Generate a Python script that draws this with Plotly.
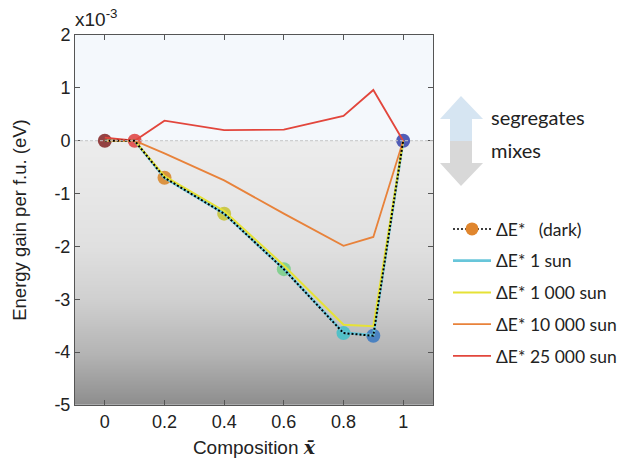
import numpy as np
import plotly.graph_objects as go

# Composition values and energy gains (units of 1e-3 eV per formula unit)
composition = [0.0, 0.1, 0.2, 0.4, 0.6, 0.8, 0.9, 1.0]
dE_dark = [0.0, 0.0, -0.70, -1.38, -2.43, -3.64, -3.69, 0.0]
dE_1sun = [0.0, 0.0, -0.70, -1.38, -2.43, -3.63, -3.68, 0.0]
dE_1000sun = [0.0, 0.0, -0.67, -1.33, -2.36, -3.48, -3.51, 0.0]
dE_10000sun = [0.0, 0.0, -0.24, -0.75, -1.38, -1.99, -1.82, 0.0]
dE_25000sun = [0.06, 0.0, 0.38, 0.20, 0.21, 0.47, 0.96, 0.0]

point_colors = ["#8a2f2f", "#e04848", "#d98a30", "#c8c43c",
                "#7bcf8a", "#46c0c8", "#3f7cc2", "#3f4db0"]

x_ticks = [0, 0.2, 0.4, 0.6, 0.8, 1]
x_ticklabels = ["0", "0.2", "0.4", "0.6", "0.8", "1"]
y_ticks = [-5, -4, -3, -2, -1, 0, 1, 2]
y_ticklabels = ["-5", "-4", "-3", "-2", "-1", "0", "1", "2"]

W, H = 622, 461
L, R, T, B = 75, 189, 35, 56
FONT_AX = "Liberation Sans, Arial, sans-serif"
FONT_TXT = "Lato, Open Sans, sans-serif"


def px(x):
    return (x - L) / (W - L - R)


def py(y):
    return (H - B - y) / (H - T - B)


fig = go.Figure()

# grey gradient below zero, as a single-column heatmap with explicit bin edges
stops_y = [0, -1, -2, -3, -4, -5]
stops_v = [236, 231, 224, 208, 181, 142]
n = 200
y_edges = np.linspace(-5, 0, n + 1)
y_mid = 0.5 * (y_edges[:-1] + y_edges[1:])
shade = np.interp(y_mid, stops_y[::-1], stops_v[::-1])
fig.add_trace(go.Heatmap(
    x=[-0.1, 1.1], y=y_edges, z=shade.reshape(-1, 1),
    zmin=0, zmax=255, colorscale=[[0, "rgb(0,0,0)"], [1, "rgb(255,255,255)"]],
    showscale=False, hoverinfo="skip", showlegend=False))

# dark-state points (drawn beneath the lines)
fig.add_trace(go.Scatter(
    x=composition, y=dE_dark, mode="markers",
    marker=dict(size=14, color=point_colors, opacity=0.9),
    showlegend=False, hoverinfo="skip"))

series = [
    ("ΔE* 1 sun", dE_1sun, "#68c6da", 2.6),
    ("ΔE* 1 000 sun", dE_1000sun, "#e6e236", 2),
    ("ΔE* 10 000 sun", dE_10000sun, "#e8823a", 1.8),
    ("ΔE* 25 000 sun", dE_25000sun, "#e2463c", 1.8),
]
for i, (name, vals, col, w) in enumerate(series):
    fig.add_trace(go.Scatter(
        x=composition, y=vals, mode="lines", name=name,
        line=dict(color=col, width=w), legendgroup=name,
        legendrank=i + 2))

# dotted dark-state curve on top
fig.add_trace(go.Scatter(
    x=composition, y=dE_dark, mode="lines",
    line=dict(color="black", width=2, dash="2px,2px"),
    showlegend=False, hoverinfo="skip"))

# legend entry for the dark-state curve
fig.add_trace(go.Scatter(
    x=[None], y=[None], mode="lines+markers", name="ΔE*   (dark)",
    line=dict(color="black", width=1.5, dash="2px,2px"),
    marker=dict(size=13, color="#e0862e"), legendgroup="dark", legendrank=1))

shapes = [dict(type="line", xref="paper", yref="y",
               x0=0, x1=1, y0=0, y1=0,
               line=dict(color="#c6c6c6", width=1, dash="3px,2px"))]

# segregates / mixes double arrow
up = [(461, 96), (483, 119), (472, 119), (472, 141), (450, 141), (450, 119), (440, 119)]
down = [(450, 141), (472, 141), (472, 163), (483, 163), (461, 186), (440, 163), (450, 163)]
for pts, col in ((up, "#d6e5f2"), (down, "#d8d8d8")):
    path = "M " + " L ".join(f"{px(a):.4f},{py(b):.4f}" for a, b in pts) + " Z"
    shapes.append(dict(type="path", xref="paper", yref="paper", path=path,
                       fillcolor=col, line=dict(width=0)))

annotations = [
    dict(text="x10<sup>-3</sup>", xref="paper", yref="paper", x=px(73), y=py(18),
         xanchor="left", yanchor="middle", showarrow=False,
         font=dict(family=FONT_AX, size=19, color="#222")),
    dict(text="segregates", xref="paper", yref="paper", x=px(489), y=py(117),
         xanchor="left", yanchor="middle", showarrow=False,
         font=dict(family=FONT_TXT, size=20, color="#222")),
    dict(text="mixes", xref="paper", yref="paper", x=px(489), y=py(150),
         xanchor="left", yanchor="middle", showarrow=False,
         font=dict(family=FONT_TXT, size=20, color="#222")),
]

axis_common = dict(showline=True, linecolor="#555", linewidth=1, mirror="ticks",
                   ticks="inside", ticklen=5, tickcolor="#555", showgrid=False,
                   zeroline=False, tickfont=dict(family=FONT_AX, size=18, color="#222"))

fig.update_layout(
    width=W, height=H,
    margin=dict(l=L, r=R, t=T, b=B, autoexpand=False),
    paper_bgcolor="white", plot_bgcolor="#f4f8fc",
    shapes=shapes, annotations=annotations,
    xaxis=dict(range=[-0.1, 1.1], tickvals=x_ticks, ticktext=x_ticklabels,
               title=dict(text="Composition <span style=\"font-family:DejaVu Serif\">"
                               "<b><i>x̄</i></b></span>", standoff=10,
                          font=dict(family=FONT_AX, size=19, color="#222")),
               **axis_common),
    yaxis=dict(range=[-5, 2], tickvals=y_ticks, ticktext=y_ticklabels,
               title=dict(text="Energy gain per f.u. (eV)", standoff=22,
                          font=dict(family=FONT_AX, size=18.5, color="#222")),
               **axis_common),
    legend=dict(x=px(448), y=py(211), xanchor="left", yanchor="top",
                bgcolor="rgba(0,0,0,0)", traceorder="grouped", tracegroupgap=6,
                itemwidth=38,
                font=dict(family=FONT_TXT, size=17.5, color="#222")),
    showlegend=True,
)

fig.write_html("out.html")
